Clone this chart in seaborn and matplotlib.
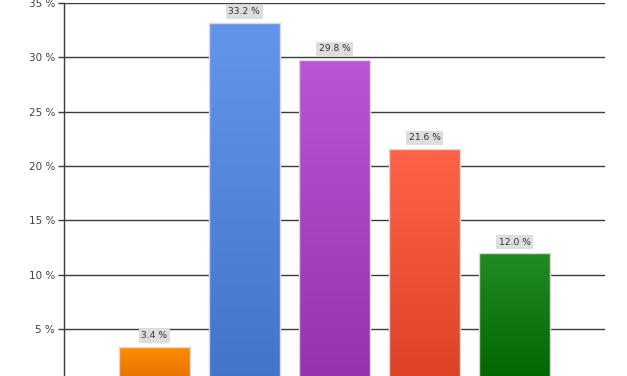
import matplotlib
matplotlib.use("Agg")
import matplotlib.pyplot as plt
import matplotlib.colors as mcolors
import numpy as np
import pandas as pd
import seaborn as sns

categories = ["A", "B", "C", "D", "E"]
values = [3.4, 33.2, 29.8, 21.6, 12.0]
labels = ["3.4 %", "33.2 %", "29.8 %", "21.6 %", "12.0 %"]
yticks = [5, 10, 15, 20, 25, 30, 35]
ytick_labels = ["5 %", "10 %", "15 %", "20 %", "25 %", "30 %", "35 %"]
top_colors = ["#FF8C00", "#6495ED", "#BA55D3", "#FF6347", "#228B22"]
bottom_colors = ["#E06E00", "#4274CB", "#9632AE", "#DE4226", "#006400"]

df = pd.DataFrame({"cat": categories, "val": values})

sns.set_style("white")
plt.rcParams["font.family"] = ["DejaVu Sans"]

fig = plt.figure(figsize=(6.27, 3.76), dpi=100)
ax = fig.add_axes([64 / 627, -7.5 / 376, (605 - 64) / 627, (376 - 3 + 7.5) / 376])

sns.barplot(data=df, x="cat", y="val", ax=ax, width=0.79, color="white",
            edgecolor="#d9d9d9", linewidth=1.0, zorder=3)

grad = np.linspace(0, 1, 256).reshape(-1, 1)
for patch, tc, bc in zip(ax.patches, top_colors, bottom_colors):
    x0, y0 = patch.get_x(), patch.get_y()
    w, h = patch.get_width(), patch.get_height()
    cmap = mcolors.LinearSegmentedColormap.from_list("g", [bc, tc])
    im = ax.imshow(grad, cmap=cmap, extent=[x0, x0 + w, y0, y0 + h],
                   origin="lower", aspect="auto", zorder=2)
    im.set_clip_path(patch)
    patch.set_facecolor("none")

for i, (v, lab) in enumerate(zip(values, labels)):
    ax.annotate(lab, xy=(i, v), xytext=(0, 4.6), textcoords="offset points",
                ha="center", va="bottom", fontsize=6.6, color="#333333",
                bbox=dict(boxstyle="square,pad=0.28", facecolor="#dedede",
                          edgecolor="none"), zorder=4)

ax.set_xlim(-1, 5)
ax.set_ylim(0, 35)
ax.set_yticks(yticks)
ax.set_yticklabels(ytick_labels)
ax.set_xticks([])
ax.set_xlabel("")
ax.set_ylabel("")
ax.yaxis.grid(True, color="#3c3c3c", linewidth=1.0, zorder=0)
ax.set_axisbelow(True)
ax.tick_params(axis="y", left=True, length=4.5, width=1.0, color="#3c3c3c",
               labelsize=7.5, labelcolor="#404040", pad=2)
for s in ["right", "bottom", "top"]:
    ax.spines[s].set_visible(False)
ax.spines["left"].set_color("#3c3c3c")
ax.spines["left"].set_linewidth(1.0)

fig.savefig("out.png", dpi=100)
